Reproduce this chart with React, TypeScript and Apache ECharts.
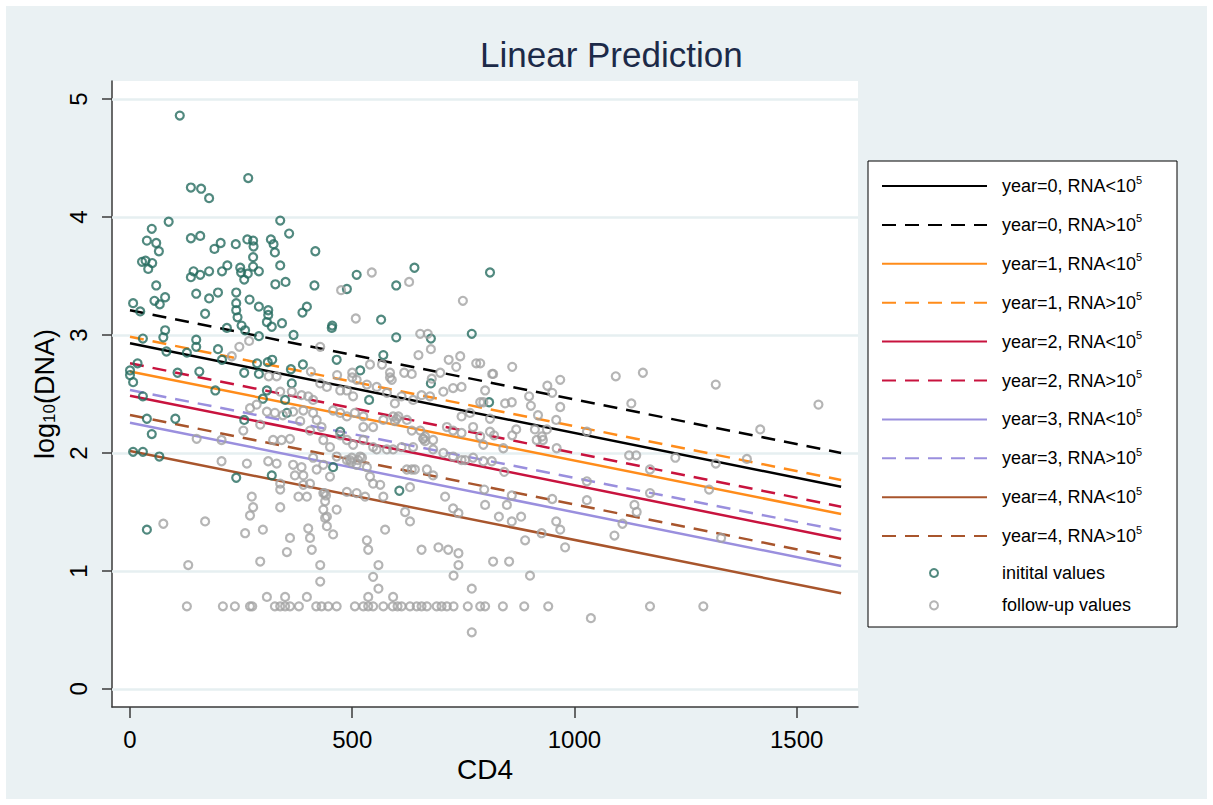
import React, { useEffect, useRef } from "react";
import * as echarts from "echarts";

const FONT = '"Liberation Sans", Arial, Helvetica, sans-serif';

const xTicks = [0, 500, 1000, 1500];
const yTicks = [0, 1, 2, 3, 4, 5];

const lineNames = [
  "year=0, RNA<10^5",
  "year=0, RNA>10^5",
  "year=1, RNA<10^5",
  "year=1, RNA>10^5",
  "year=2, RNA<10^5",
  "year=2, RNA>10^5",
  "year=3, RNA<10^5",
  "year=3, RNA>10^5",
  "year=4, RNA<10^5",
  "year=4, RNA>10^5",
];
const lineColors = [
  "#000000", "#000000",
  "#ff8c1a", "#ff8c1a",
  "#c8133e", "#c8133e",
  "#9a8fde", "#9a8fde",
  "#a8552c", "#a8552c",
];
const lineDashed = [false, true, false, true, false, true, false, true, false, true];
const lineCD4 = [0, 1600];
const lineStart = [2.93, 3.21, 2.69, 2.985, 2.486, 2.76, 2.257, 2.534, 2.017, 2.322];
const lineEnd = [1.714, 2.0, 1.483, 1.771, 1.271, 1.545, 1.042, 1.342, 0.811, 1.108];

const scatterNames = ["initital values", "follow-up values"];

const initialValues: [number, number][] = [
  [112, 4.86], [266, 4.33], [137, 4.25], [160, 4.24], [178, 4.16], [87, 3.96], [49, 3.9], [338, 3.97],
  [358, 3.86], [38, 3.8], [59, 3.78], [65, 3.71], [137, 3.82], [158, 3.84], [204, 3.78], [190, 3.73],
  [238, 3.77], [264, 3.81], [277, 3.8], [278, 3.75], [317, 3.81], [323, 3.77], [326, 3.7], [277, 3.66],
  [417, 3.71], [27, 3.62], [35, 3.63], [50, 3.61], [41, 3.56], [143, 3.54], [137, 3.49], [158, 3.51],
  [178, 3.54], [207, 3.54], [219, 3.59], [248, 3.57], [250, 3.53], [257, 3.47], [265, 3.52], [277, 3.58],
  [290, 3.54], [338, 3.59], [327, 3.43], [350, 3.45], [59, 3.42], [149, 3.35], [198, 3.36], [239, 3.36],
  [415, 3.42], [510, 3.51], [488, 3.39], [640, 3.57], [599, 3.42], [810, 3.53], [7, 3.27], [55, 3.29],
  [67, 3.26], [79, 3.32], [178, 3.31], [169, 3.18], [269, 3.3], [239, 3.27], [239, 3.21], [242, 3.15],
  [290, 3.24], [311, 3.21], [311, 3.17], [308, 3.11], [319, 3.07], [342, 3.1], [388, 3.19], [398, 3.24],
  [251, 3.08], [259, 3.04], [218, 3.06], [23, 3.2], [79, 3.04], [75, 2.98], [29, 2.97], [149, 2.96],
  [149, 2.9], [82, 2.86], [128, 2.85], [198, 2.88], [207, 2.79], [290, 2.99], [368, 3.0], [455, 3.08],
  [454, 3.06], [565, 3.13], [599, 2.98], [677, 2.97], [769, 3.01], [465, 2.79], [570, 2.83], [518, 2.7],
  [17, 2.76], [0, 2.7], [107, 2.68], [156, 2.69], [257, 2.68], [290, 2.67], [310, 2.77], [320, 2.79],
  [362, 2.71], [389, 2.75], [808, 2.43], [286, 2.76], [7, 2.6], [0, 2.66], [364, 2.59], [192, 2.53],
  [308, 2.53], [299, 2.46], [349, 2.45], [29, 2.48], [38, 2.29], [102, 2.29], [49, 2.16], [7, 2.01],
  [29, 2.01], [66, 1.97], [257, 2.28], [239, 1.79], [319, 1.81], [606, 1.68], [38, 1.35], [353, 2.34],
  [473, 2.18], [538, 2.45], [677, 2.59], [457, 1.88],
];

const followUpValues: [number, number][] = [
  [544, 3.53], [628, 3.45], [475, 3.38], [508, 3.14], [749, 3.29], [653, 3.01], [670, 3.01], [649, 2.83],
  [677, 2.88], [717, 2.79], [743, 2.82], [734, 2.73], [779, 2.76], [817, 2.67], [540, 2.75], [567, 2.75],
  [428, 2.9], [246, 2.9], [268, 2.95], [229, 2.82], [585, 2.68], [617, 2.68], [634, 2.67], [698, 2.68],
  [466, 2.66], [500, 2.68], [407, 2.69], [500, 2.64], [585, 2.64],
  [788, 2.76], [860, 2.73], [815, 2.67], [799, 2.53], [939, 2.57], [968, 2.62], [950, 2.51], [898, 2.48],
  [1093, 2.65], [1154, 2.68], [1318, 2.58], [1549, 2.41], [1128, 2.42], [1418, 2.2], [859, 2.43], [844, 2.42],
  [902, 2.4], [968, 2.39], [810, 2.29], [918, 2.32], [959, 2.28], [810, 2.18], [869, 2.2], [911, 2.2],
  [938, 2.2], [860, 2.15], [927, 2.14], [915, 2.11], [929, 2.11], [1028, 2.18], [819, 2.15], [795, 2.07],
  [840, 2.04], [960, 2.04], [795, 2.43],
  [1123, 1.98], [1139, 1.98], [1227, 1.96], [1318, 1.91], [1388, 1.95], [1170, 1.86], [842, 1.84], [1303, 1.69],
  [1028, 1.76], [797, 1.69], [859, 1.64], [950, 1.61], [1028, 1.6], [1170, 1.66], [1135, 1.56], [1140, 1.5],
  [799, 1.56], [848, 1.56], [1108, 1.4], [830, 1.46], [859, 1.42], [880, 1.46], [959, 1.42], [968, 1.35],
  [926, 1.32], [889, 1.26], [979, 1.2], [1090, 1.3], [1330, 1.28], [817, 1.08], [853, 1.08], [900, 0.96],
  [799, 0.7], [839, 0.7], [887, 0.7], [941, 0.7], [1170, 0.7], [1290, 0.7], [1037, 0.6],
  [128, 0.7], [209, 0.7], [236, 0.7], [270, 0.7], [275, 0.7], [326, 0.7], [338, 0.7], [349, 0.7],
  [360, 0.7], [380, 0.7], [419, 0.7], [431, 0.7], [446, 0.7], [465, 0.7], [506, 0.7], [525, 0.7],
  [536, 0.7], [547, 0.7], [570, 0.7], [591, 0.7], [602, 0.7], [611, 0.7], [630, 0.7], [645, 0.7],
  [656, 0.7], [668, 0.7], [690, 0.7], [701, 0.7], [713, 0.7], [728, 0.7], [760, 0.7], [788, 0.7],
  [308, 0.78], [349, 0.78], [398, 0.78], [536, 0.78], [592, 0.78],
  [769, 0.48], [131, 1.05], [293, 1.08], [428, 1.05], [428, 0.91], [559, 1.05], [547, 0.95], [559, 0.85],
  [769, 0.85], [728, 0.96], [739, 1.05], [739, 1.15], [716, 1.18], [694, 1.2], [656, 1.18], [630, 1.42],
  [619, 1.5], [574, 1.35], [533, 1.26], [536, 1.18], [465, 1.52], [457, 1.31], [443, 1.38], [439, 1.45],
  [409, 1.18], [405, 1.28], [401, 1.36], [360, 1.28], [353, 1.16], [259, 1.32], [299, 1.35], [169, 1.42],
  [75, 1.4], [274, 1.63], [277, 1.54], [270, 1.47], [338, 1.54], [379, 1.63], [398, 1.63], [435, 1.66],
  [439, 1.59], [435, 1.52], [443, 1.46], [529, 1.63], [570, 1.63], [510, 1.66], [488, 1.67], [709, 1.63],
  [727, 1.53], [739, 1.49],
  [338, 2.52], [364, 2.52], [386, 2.49], [401, 2.48], [412, 2.45], [428, 2.59], [443, 2.56], [473, 2.53],
  [488, 2.53], [502, 2.48], [533, 2.58], [555, 2.56], [578, 2.51], [596, 2.42], [611, 2.48], [637, 2.45],
  [656, 2.49], [675, 2.48], [705, 2.52], [727, 2.55], [746, 2.56], [765, 2.34], [746, 2.31], [788, 2.43],
  [312, 2.65], [330, 2.65], [510, 2.62], [589, 2.62], [679, 2.63],
  [270, 2.38], [285, 2.41], [308, 2.35], [326, 2.34], [344, 2.32], [367, 2.35], [390, 2.36], [412, 2.34],
  [420, 2.28], [383, 2.27], [405, 2.19], [431, 2.22], [457, 2.36], [473, 2.34], [488, 2.31], [506, 2.34],
  [525, 2.31], [525, 2.22], [547, 2.22], [570, 2.28], [592, 2.31], [623, 2.28], [634, 2.19], [653, 2.19],
  [664, 2.14], [682, 2.11], [713, 2.22], [727, 2.19], [746, 2.17], [772, 2.22], [788, 2.14], [293, 2.24],
  [255, 2.19], [206, 2.11], [150, 2.12], [360, 2.12], [341, 2.11], [322, 2.11], [435, 2.11], [450, 2.05],
  [473, 2.15], [488, 2.11], [502, 2.07], [525, 2.11], [547, 2.05], [555, 2.03], [578, 2.03], [592, 2.03],
  [611, 2.05], [637, 2.05], [660, 2.12], [682, 2.03], [705, 2.0], [727, 1.97], [746, 1.94], [772, 1.96],
  [795, 1.93], [814, 1.93],
  [206, 1.93], [263, 1.91], [311, 1.93], [330, 1.91], [367, 1.9], [386, 1.88], [390, 1.81], [371, 1.81],
  [412, 1.96], [420, 1.86], [435, 1.9], [450, 1.8], [465, 1.97], [488, 1.94], [499, 1.96], [510, 1.9],
  [533, 1.88], [540, 1.8], [547, 1.74], [563, 1.73], [405, 1.74], [390, 1.73], [338, 1.74], [338, 1.69],
  [630, 1.71], [623, 1.86], [641, 1.86], [668, 1.86], [682, 1.81], [754, 1.94], [518, 1.97], [513, 1.94],
  [522, 1.96], [600, 2.29], [604, 2.31], [596, 2.27], [660, 2.12], [664, 2.1], [495, 1.94], [498, 1.92],
  [634, 1.86], [438, 1.66], [441, 1.64],
];

const legendFormatter = (name: string) =>
  name.endsWith("^5") ? `{t|${name.slice(0, -2)}}{s|5}` : `{u|${name}}`;

const legendText = {
  fontFamily: FONT,
  fontSize: 18,
  color: "#000",
  rich: {
    t: { fontFamily: FONT, fontSize: 18, lineHeight: 24, color: "#000", padding: [0, 0, 0, 10] },
    s: { fontFamily: FONT, fontSize: 11, lineHeight: 12, verticalAlign: "top", color: "#000" },
    u: { fontFamily: FONT, fontSize: 18, lineHeight: 20, color: "#000", padding: [0, 0, 0, 59] },
  },
};

export default function App() {
  const ref = useRef<HTMLDivElement>(null);
  useEffect(() => {
    const chart = echarts.init(ref.current as HTMLDivElement, null, { renderer: "svg" });

    const lineSeries = lineNames.map((name, i) => ({
      type: "line",
      name,
      data: [
        [lineCD4[0], lineStart[i]],
        [lineCD4[1], lineEnd[i]],
      ],
      symbol: "none",
      showSymbol: false,
      silent: true,
      z: 3,
      lineStyle: {
        color: lineColors[i],
        width: 2.5,
        type: lineDashed[i] ? [14, 9] : "solid",
      },
      itemStyle: { color: lineColors[i] },
    }));

    const option: any = {
      animation: false,
      backgroundColor: "transparent",
      title: {
        text: "Linear Prediction",
        left: 480,
        top: 37,
        padding: 0,
        textStyle: { fontFamily: FONT, fontSize: 35, fontWeight: "normal", color: "#1c2a48" },
      },
      grid: {
        left: 112,
        top: 81,
        width: 746,
        height: 626,
        show: true,
        backgroundColor: "#ffffff",
        borderWidth: 0,
      },
      xAxis: {
        type: "value",
        min: -40.5,
        max: 1638,
        name: "CD4",
        nameLocation: "middle",
        nameGap: 41,
        nameTextStyle: { fontFamily: FONT, fontSize: 28, color: "#000" },
        axisLine: { show: true, onZero: false, lineStyle: { color: "#3a3a3a", width: 1.5 } },
        axisTick: { show: true, customValues: xTicks, length: 11, lineStyle: { color: "#3a3a3a", width: 1.5 } },
        axisLabel: {
          customValues: xTicks,
          formatter: (v: number) => String(v),
          margin: 20,
          fontFamily: FONT,
          fontSize: 24,
          color: "#000",
        },
        splitLine: { show: false },
      },
      yAxis: {
        type: "value",
        min: -0.153,
        max: 5.153,
        name: "log{sub|10}(DNA)",
        nameLocation: "middle",
        nameRotate: 90,
        nameGap: 42,
        nameTextStyle: {
          fontFamily: FONT,
          fontSize: 27,
          color: "#000",
          rich: { sub: { fontFamily: FONT, fontSize: 17, color: "#000", verticalAlign: "bottom" } },
        },
        axisLine: { show: true, onZero: false, lineStyle: { color: "#3a3a3a", width: 1.5 } },
        axisTick: { show: true, customValues: yTicks, length: 10, lineStyle: { color: "#3a3a3a", width: 1.5 } },
        axisLabel: {
          customValues: yTicks,
          formatter: (v: number) => String(v),
          rotate: 90,
          margin: 22,
          fontFamily: FONT,
          fontSize: 24,
          color: "#000",
        },
        splitLine: { show: false },
      },
      legend: [
        {
          data: lineNames,
          orient: "vertical",
          left: 881,
          top: 174,
          padding: 0,
          itemWidth: 105,
          itemHeight: 24,
          itemGap: 17.3,
          selectedMode: false,
          formatter: legendFormatter,
          textStyle: legendText,
          itemStyle: { opacity: 0 },
        },
        {
          data: scatterNames,
          orient: "vertical",
          left: 929,
          top: 564,
          padding: 0,
          itemWidth: 8,
          itemHeight: 8,
          itemGap: 14.4,
          selectedMode: false,
          formatter: legendFormatter,
          textStyle: legendText,
        },
      ],
      graphic: [
        {
          type: "rect",
          shape: { x: 868, y: 161, width: 309, height: 466 },
          style: { fill: "#ffffff", stroke: "#000000", lineWidth: 1 },
          z: 0,
          silent: true,
        },
      ],
      series: [
        {
          type: "line",
          name: "__grid",
          data: [],
          silent: true,
          z: 1,
          markLine: {
            silent: true,
            z: 1,
            symbol: ["none", "none"],
            label: { show: false },
            lineStyle: { color: "#e6eff1", width: 2.5, type: "solid" },
            data: yTicks.map((v) => ({ yAxis: v })),
          },
        },
        ...lineSeries,
        {
          type: "scatter",
          name: scatterNames[0],
          data: initialValues,
          symbol: "circle",
          symbolSize: 8,
          silent: true,
          z: 4,
          itemStyle: { color: "rgba(0,0,0,0)", borderColor: "#256b5f", borderWidth: 2.2 },
        },
        {
          type: "scatter",
          name: scatterNames[1],
          data: followUpValues,
          symbol: "circle",
          symbolSize: 8,
          silent: true,
          z: 4,
          itemStyle: { color: "rgba(0,0,0,0)", borderColor: "#a3a3a3", borderWidth: 2.2 },
        },
      ],
    };

    chart.setOption(option);
    return () => chart.dispose();
  }, []);

  return (
    <div style={{ position: "fixed", left: 0, top: 0, width: 1213, height: 805, background: "#ffffff" }}>
      <div style={{ position: "absolute", left: 6, top: 6, width: 1201, height: 793, background: "#eaf1f3" }} />
      <div ref={ref} style={{ position: "absolute", left: 0, top: 0, width: 1213, height: 805 }} />
    </div>
  );
}
